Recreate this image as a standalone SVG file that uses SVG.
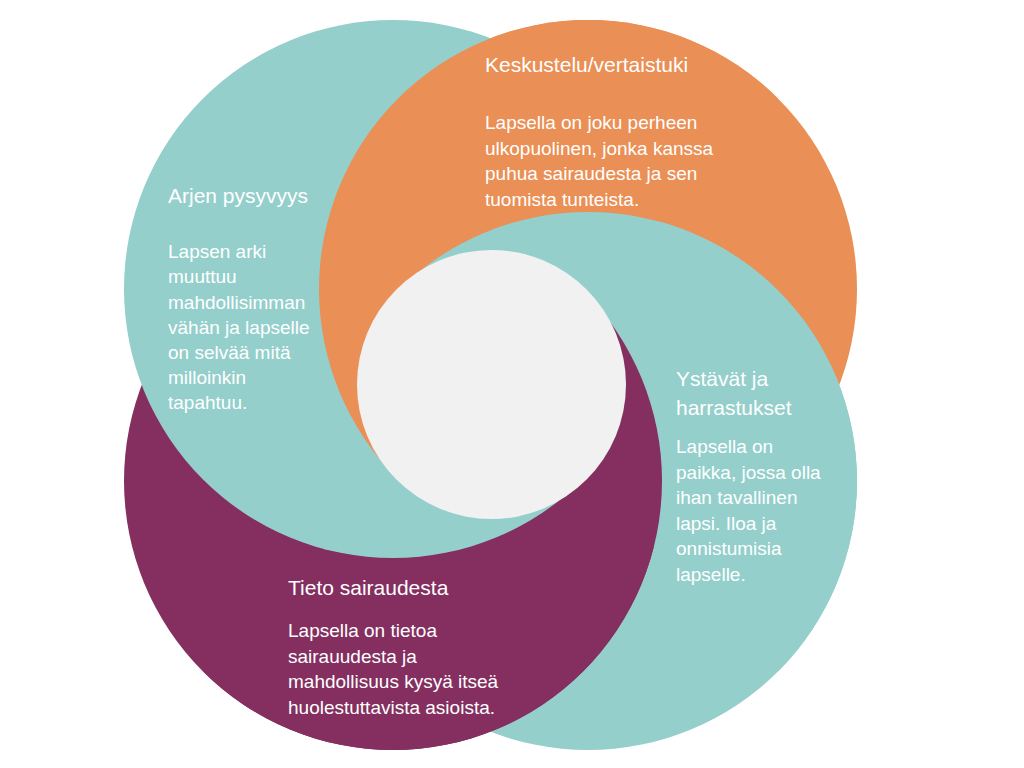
<svg xmlns="http://www.w3.org/2000/svg" xmlns:xlink="http://www.w3.org/1999/xlink" width="1024" height="768" viewBox="0 0 1024 768">
  <style>
    .teal { fill: #94CFCC; }
    .orange { fill: #EA8F55; }
    .purple { fill: #842F5F; }
    .center { fill: #F0F1F0; }
    .title { font-family: "Liberation Sans", Arial, sans-serif; font-size: 21px; fill: #FFFFFF; }
    .body { font-family: "Liberation Sans", Arial, sans-serif; font-size: 19px; fill: #FFFFFF; }
  </style>
  <defs>
    <circle id="c-arjen" cx="393" cy="289" r="269"/>
    <circle id="c-keskustelu" cx="588" cy="289" r="269"/>
    <circle id="c-ystavat" cx="588" cy="481" r="269"/>
    <circle id="c-tieto" cx="393" cy="481" r="269"/>
    <clipPath id="h-left-top"><polygon points="-10,-10 886,-10 -10,886"/></clipPath>
    <clipPath id="h-top-right"><polygon points="97,-10 1034,-10 1034,927"/></clipPath>
    <clipPath id="h-right-bottom"><polygon points="886,-10 1034,-10 1034,778 98,778"/></clipPath>
    <clipPath id="w-bottom"><polygon points="489.5,382.5 885,778 94,778"/></clipPath>
  </defs>
  <rect x="0" y="0" width="1024" height="768" fill="#FFFFFF"/>

  <g id="swirl-shapes">
    <use xlink:href="#c-keskustelu" href="#c-keskustelu" class="orange"/>
    <use xlink:href="#c-ystavat" href="#c-ystavat" class="teal"/>
    <use xlink:href="#c-tieto" href="#c-tieto" class="purple"/>
    <use xlink:href="#c-arjen" href="#c-arjen" class="teal"/>
    <use xlink:href="#c-keskustelu" href="#c-keskustelu" class="orange" clip-path="url(#h-left-top)"/>
    <use xlink:href="#c-ystavat" href="#c-ystavat" class="teal" clip-path="url(#h-top-right)"/>
    <use xlink:href="#c-tieto" href="#c-tieto" class="purple" clip-path="url(#h-right-bottom)"/>
    <use xlink:href="#c-arjen" href="#c-arjen" class="teal" clip-path="url(#w-bottom)"/>
  </g>

  <g id="node-center">
    <circle class="center" cx="491.5" cy="384.5" r="134.5"/>
  </g>

  <g id="node-arjen">
    <text class="title" x="168" y="203">Arjen pysyvyys</text>
    <text class="body" x="168" y="257.5">Lapsen arki</text>
    <text class="body" x="168" y="283">muuttuu</text>
    <text class="body" x="168" y="308.5">mahdollisimman</text>
    <text class="body" x="168" y="334">vähän ja lapselle</text>
    <text class="body" x="168" y="358.5">on selvää mitä</text>
    <text class="body" x="168" y="384">milloinkin</text>
    <text class="body" x="168" y="409">tapahtuu.</text>
  </g>

  <g id="node-keskustelu">
    <text class="title" x="485" y="72">Keskustelu/vertaistuki</text>
    <text class="body" x="485" y="129">Lapsella on joku perheen</text>
    <text class="body" x="485" y="154.5">ulkopuolinen, jonka kanssa</text>
    <text class="body" x="485" y="180">puhua sairaudesta ja sen</text>
    <text class="body" x="485" y="205.5">tuomista tunteista.</text>
  </g>

  <g id="node-ystavat">
    <text class="title" x="676" y="386">Ystävät ja</text>
    <text class="title" x="676" y="415">harrastukset</text>
    <text class="body" x="676" y="453">Lapsella on</text>
    <text class="body" x="676" y="478.5">paikka, jossa olla</text>
    <text class="body" x="676" y="504">ihan tavallinen</text>
    <text class="body" x="676" y="529.5">lapsi. Iloa ja</text>
    <text class="body" x="676" y="555">onnistumisia</text>
    <text class="body" x="676" y="580.5">lapselle.</text>
  </g>

  <g id="node-tieto">
    <text class="title" x="288" y="595">Tieto sairaudesta</text>
    <text class="body" x="288" y="637">Lapsella on tietoa</text>
    <text class="body" x="288" y="662.5">sairauudesta ja</text>
    <text class="body" x="288" y="688">mahdollisuus kysyä itseä</text>
    <text class="body" x="288" y="713.5">huolestuttavista asioista.</text>
  </g>
</svg>
